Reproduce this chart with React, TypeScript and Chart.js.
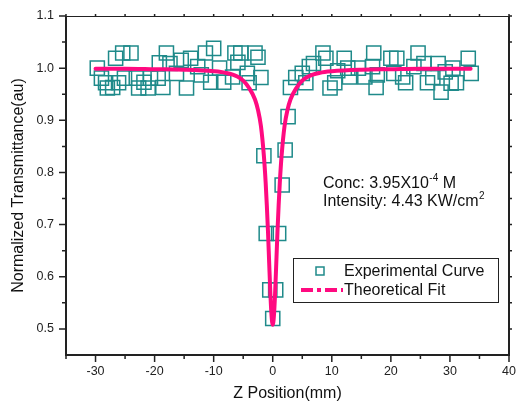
import { useEffect, useRef } from 'react';
import { Chart, registerables } from 'chart.js';

Chart.register(...registerables);

// Experimental (Z-scan) points
const expX = [
  -29.7, -29.0, -28.3, -28.0, -27.1, -26.6, -26.1, -25.4, -25.1, -24.0,
  -23.1, -22.7, -21.8, -21.1, -20.7, -19.4, -19.2, -18.6, -18.0, -17.4,
  -16.3, -15.5, -14.6, -13.9, -12.7, -12.1, -11.4, -10.5, -10.0, -9.0,
  -8.3, -6.8, -6.4, -5.9, -5.4, -4.3, -4.0, -3.0, -2.5, -2.0,
  -1.5, -1.1, -0.5, 0.0, 0.5, 1.0, 1.6, 2.1, 2.6,
  3.0, 3.9, 5.0, 5.6, 6.2, 6.9, 8.5, 9.0, 9.7, 10.5,
  11.0, 12.1, 12.7, 13.0, 14.5, 15.6, 16.9, 17.1, 17.5, 17.7,
  20.0, 20.5, 21.0, 22.0, 22.5, 23.9, 24.6, 25.6, 26.2, 27.1,
  28.0, 28.5, 29.2, 30.2, 30.5, 31.1, 33.1, 33.6,
];
const expY = [
  1.000, 0.981, 0.972, 0.962, 0.963, 1.019, 0.972, 1.029, 0.981, 1.029,
  0.981, 0.962, 0.973, 0.962, 0.981, 0.981, 1.010, 0.963, 1.029, 1.009,
  0.990, 1.015, 0.962, 1.019, 1.003, 0.987, 1.029, 0.973, 1.038, 1.000,
  0.973, 0.983, 1.029, 1.011, 1.029, 0.990, 0.972, 1.029, 1.021, 0.982,
  0.832, 0.683, 0.575, 0.520, 0.575, 0.683, 0.776, 0.843, 0.907,
  0.963, 0.982, 0.990, 0.972, 1.003, 1.009, 1.029, 1.019, 0.962, 0.972,
  0.995, 1.019, 1.000, 0.983, 1.000, 0.983, 1.003, 1.029, 0.963, 0.987,
  1.019, 0.990, 1.019, 0.983, 0.972, 1.003, 1.029, 1.009, 0.972, 0.982,
  1.009, 0.954, 0.993, 0.971, 1.000, 0.972, 1.019, 0.990,
];

// Theoretical fit curve
const fitX = [
  -30, -25, -20, -15, -10, -8, -6, -5, -4, -3, -2.5, -2, -1.5, -1.2, -1, -0.8, -0.6, -0.4, -0.2, 0,
  0.2, 0.4, 0.6, 0.8, 1, 1.2, 1.5, 2, 2.5, 3, 4, 5, 6, 8, 10, 15, 20, 25, 30, 33.5,
];
const fitY = [
  0.999, 0.999, 0.998, 0.997, 0.994, 0.991, 0.984, 0.976, 0.962, 0.940, 0.920, 0.889, 0.832, 0.781, 0.737, 0.686, 0.626, 0.568, 0.525, 0.508,
  0.525, 0.568, 0.626, 0.686, 0.737, 0.781, 0.832, 0.889, 0.920, 0.940, 0.962, 0.976, 0.984, 0.991, 0.994, 0.997, 0.998, 0.999, 0.999, 0.999,
];

const xTicks = [-30, -20, -10, 0, 10, 20, 30, 40];
const xMinor = [-35, -25, -15, -5, 5, 15, 25, 35];
const yTicks = [0.5, 0.6, 0.7, 0.8, 0.9, 1.0, 1.1];
const yMinor = [0.55, 0.65, 0.75, 0.85, 0.95, 1.05];

const xTitle = 'Z Position(mm)';
const yTitle = 'Normalized Transmittance(au)';
const legendLabels = ['Experimental Curve', 'Theoretical Fit'];
const noteConc = ['Conc: 3.95X10', '-4', ' M'];
const noteInt = ['Intensity: 4.43 KW/cm', '2'];

const FONT = "'Liberation Sans', Arial, Helvetica, sans-serif";
const TEAL = '#1f8a8a';
const PINK = '#ff0a80';
const INK = '#222222';

const decor = {
  id: 'decor',
  afterDraw(chart: any) {
    const { ctx, chartArea: a, scales } = chart;
    const x = scales.x;
    const y = scales.y;
    ctx.save();
    ctx.strokeStyle = INK;
    // frame
    ctx.lineWidth = 2;
    ctx.beginPath();
    ctx.moveTo(a.left, a.top);
    ctx.lineTo(a.left, a.bottom);
    ctx.lineTo(a.right, a.bottom);
    ctx.lineTo(a.right, a.top);
    ctx.stroke();
    ctx.lineWidth = 1;
    ctx.beginPath();
    ctx.moveTo(a.left, a.top + 0.5);
    ctx.lineTo(a.right, a.top + 0.5);
    ctx.stroke();

    // tick marks
    ctx.lineWidth = 1.5;
    ctx.beginPath();
    xTicks.forEach((v) => {
      const p = x.getPixelForValue(v);
      ctx.moveTo(p, a.bottom);
      ctx.lineTo(p, a.bottom + 7);
      ctx.moveTo(p, a.top);
      ctx.lineTo(p, a.top - 2);
    });
    xMinor.forEach((v) => {
      const p = x.getPixelForValue(v);
      ctx.moveTo(p, a.bottom);
      ctx.lineTo(p, a.bottom + 4);
      ctx.moveTo(p, a.top);
      ctx.lineTo(p, a.top - 2);
    });
    yTicks.forEach((v) => {
      const p = y.getPixelForValue(v);
      ctx.moveTo(a.left, p);
      ctx.lineTo(a.left - 7, p);
      ctx.moveTo(a.right, p);
      ctx.lineTo(a.right + 3, p);
    });
    yMinor.forEach((v) => {
      const p = y.getPixelForValue(v);
      ctx.moveTo(a.left, p);
      ctx.lineTo(a.left - 4, p);
      ctx.moveTo(a.right, p);
      ctx.lineTo(a.right + 3, p);
    });
    ctx.stroke();

    // annotation text
    ctx.fillStyle = '#111111';
    ctx.textBaseline = 'alphabetic';
    ctx.textAlign = 'left';
    let tx = 323;
    ctx.font = `16px ${FONT}`;
    ctx.fillText(noteConc[0], tx, 188);
    tx += ctx.measureText(noteConc[0]).width + 0.5;
    ctx.font = `10px ${FONT}`;
    ctx.fillText(noteConc[1], tx, 181);
    tx += ctx.measureText(noteConc[1]).width;
    ctx.font = `16px ${FONT}`;
    ctx.fillText(noteConc[2], tx, 188);

    tx = 323;
    ctx.fillText(noteInt[0], tx, 206);
    tx += ctx.measureText(noteInt[0]).width + 0.5;
    ctx.font = `10px ${FONT}`;
    ctx.fillText(noteInt[1], tx, 199);

    // legend
    const lx = 293, ly = 258, lw = 205, lh = 44;
    ctx.fillStyle = '#ffffff';
    ctx.fillRect(lx, ly, lw, lh);
    ctx.strokeStyle = INK;
    ctx.lineWidth = 1;
    ctx.strokeRect(lx + 0.5, ly + 0.5, lw, lh);

    ctx.strokeStyle = TEAL;
    ctx.lineWidth = 1.5;
    ctx.strokeRect(316, 267, 8, 8);

    ctx.strokeStyle = PINK;
    ctx.lineWidth = 4;
    ctx.setLineDash([12, 4, 4, 4]);
    ctx.beginPath();
    ctx.moveTo(301, 290);
    ctx.lineTo(343, 290);
    ctx.stroke();
    ctx.setLineDash([]);

    ctx.fillStyle = '#111111';
    ctx.font = `16px ${FONT}`;
    ctx.textBaseline = 'middle';
    ctx.fillText(legendLabels[0], 344, 271.5);
    ctx.fillText(legendLabels[1], 344, 290.5);
    ctx.restore();
  },
};

export default function App() {
  const ref = useRef<HTMLCanvasElement | null>(null);

  useEffect(() => {
    if (!ref.current) return;
    const chart = new Chart(ref.current, {
      type: 'scatter',
      data: {
        datasets: [
          {
            label: legendLabels[1],
            data: fitX.map((v, i) => ({ x: v, y: fitY[i] })),
            showLine: true,
            borderColor: PINK,
            borderWidth: 4,
            pointRadius: 0,
            cubicInterpolationMode: 'monotone',
            borderCapStyle: 'round',
            borderJoinStyle: 'round',
            order: 0,
          } as any,
          {
            label: legendLabels[0],
            data: expX.map((v, i) => ({ x: v, y: expY[i] })),
            showLine: false,
            pointStyle: 'rect',
            pointRadius: 10,
            pointBorderWidth: 1.5,
            pointBorderColor: TEAL,
            pointBackgroundColor: 'rgba(0,0,0,0)',
            order: 1,
          } as any,
        ],
      },
      options: {
        animation: false,
        responsive: false,
        devicePixelRatio: 1,
        layout: { autoPadding: false, padding: { left: 0, right: 7, top: 16, bottom: 0 } },
        plugins: {
          legend: { display: false },
          tooltip: { enabled: false },
        },
        scales: {
          x: {
            type: 'linear',
            min: -35,
            max: 40,
            afterBuildTicks: (s: any) => {
              s.ticks = xTicks.map((v) => ({ value: v }));
            },
            afterFit: (s: any) => {
              s.height = 46;
              s.paddingLeft = 0;
              s.paddingRight = 0;
              s.paddingTop = 0;
              s.paddingBottom = 0;
            },
            grid: { display: false, drawTicks: false },
            border: { display: false },
            ticks: {
              padding: 9,
              color: INK,
              font: { family: FONT, size: 12.5 },
              callback: (v: any) => String(v),
            },
            title: {
              display: true,
              text: xTitle,
              color: '#111111',
              font: { family: FONT, size: 16 },
              padding: { top: 0, bottom: -2 },
            },
          },
          y: {
            type: 'linear',
            min: 0.45,
            max: 1.1,
            afterBuildTicks: (s: any) => {
              s.ticks = yTicks.map((v) => ({ value: v }));
            },
            afterFit: (s: any) => {
              s.width = 66;
              s.paddingLeft = 0;
              s.paddingRight = 0;
              s.paddingTop = 0;
              s.paddingBottom = 0;
            },
            grid: { display: false, drawTicks: false },
            border: { display: false },
            ticks: {
              padding: 12,
              color: INK,
              font: { family: FONT, size: 12.5 },
              callback: (v: any) => Number(v).toFixed(1),
            },
            title: {
              display: true,
              text: yTitle,
              color: '#111111',
              font: { family: FONT, size: 16 },
              padding: { top: 9, bottom: 0 },
            },
          },
        },
      } as any,
      plugins: [decor],
    });
    return () => chart.destroy();
  }, []);

  return (
    <div style={{ position: 'fixed', left: 0, top: 0, width: 516, height: 401, background: '#ffffff' }}>
      <canvas ref={ref} width={516} height={401} style={{ display: 'block', width: 516, height: 401 }} />
    </div>
  );
}
